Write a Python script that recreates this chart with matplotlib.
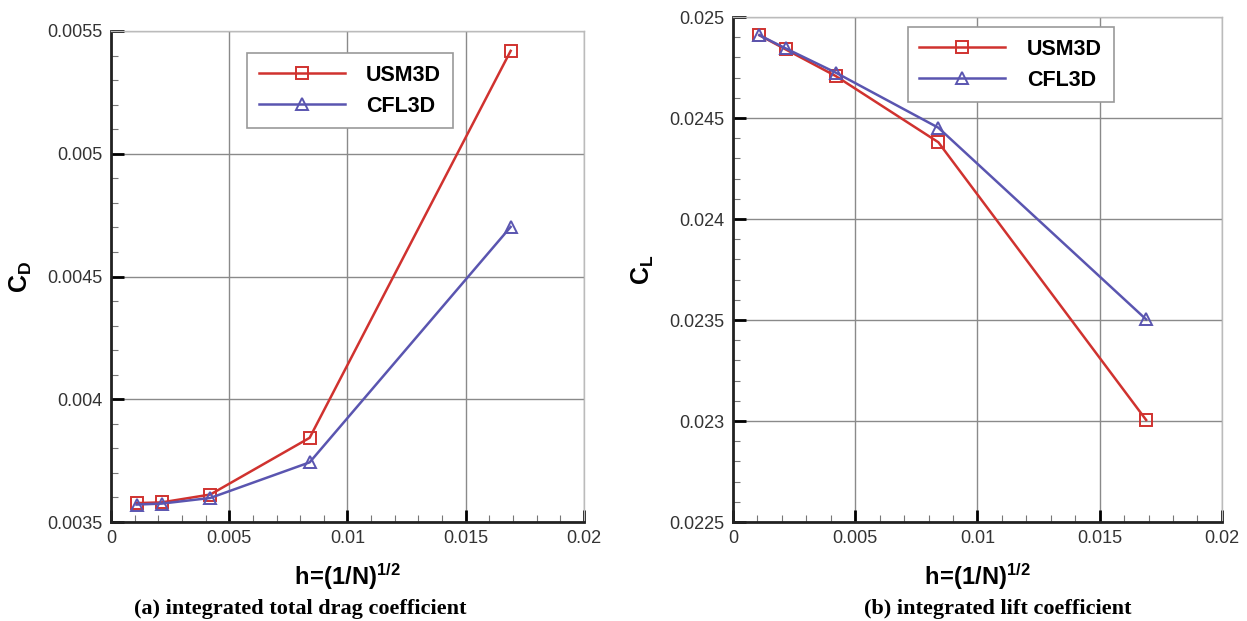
import matplotlib
matplotlib.use("Agg")
import matplotlib.pyplot as plt
from matplotlib.ticker import MultipleLocator

plt.rcParams['font.family'] = ['Liberation Sans', 'DejaVu Sans']
plt.rcParams['mathtext.fontset'] = 'custom'
plt.rcParams['mathtext.bf'] = 'Liberation Sans:bold'
plt.rcParams['mathtext.rm'] = 'Liberation Sans'

# grid spacing h = (1/N)^(1/2)
h = [0.00108, 0.00215, 0.0042, 0.0084, 0.0169]

# integrated drag coefficient
cd_usm3d = [0.003577, 0.00358, 0.003612, 0.003843, 0.005419]
cd_cfl3d = [0.003571, 0.003575, 0.003598, 0.003743, 0.004702]

# integrated lift coefficient
cl_usm3d = [0.02491, 0.02484, 0.024708, 0.02438, 0.023005]
cl_cfl3d = [0.02491, 0.024845, 0.024725, 0.024452, 0.023503]

labels = ['USM3D', 'CFL3D']
captions = ['(a) integrated total drag coefficient', '(b) integrated lift coefficient']

red = '#d0322f'
blue = '#5a55b0'

fig = plt.figure(figsize=(12.47, 6.21), dpi=100)
ax1 = fig.add_axes([0.089, 0.1594, 0.3793, 0.7907])
ax2 = fig.add_axes([0.5878, 0.1594, 0.3921, 0.8132])


def style(ax, ylim, ymaj, ymin):
    ax.set_xlim(0, 0.02)
    ax.set_ylim(*ylim)
    ax.xaxis.set_major_locator(MultipleLocator(0.005))
    ax.xaxis.set_minor_locator(MultipleLocator(0.001))
    ax.yaxis.set_major_locator(MultipleLocator(ymaj))
    ax.yaxis.set_minor_locator(MultipleLocator(ymin))
    ax.grid(True, which='major', color='#8a8a8a', lw=1.0)
    ax.set_axisbelow(True)
    for s in ['left', 'bottom']:
        ax.spines[s].set_linewidth(2.0)
        ax.spines[s].set_color('#222222')
    for s in ['top', 'right']:
        ax.spines[s].set_linewidth(1.0)
        ax.spines[s].set_color('#bbbbbb')
    ax.tick_params(which='major', direction='in', length=9, width=2, labelsize=13,
                   labelcolor='#333333', pad=6)
    ax.tick_params(which='minor', direction='in', length=5, width=0.8, color='#777777')
    ax.set_xlabel(r'$\mathbf{h\!=\!(1/N)^{1/2}}$', fontsize=17, labelpad=10)
    ax.xaxis.set_major_formatter(plt.FuncFormatter(lambda v, p: ('%g' % v)))
    ax.yaxis.set_major_formatter(plt.FuncFormatter(lambda v, p: ('%.4f' % v).rstrip('0').rstrip('.')))


style(ax1, (0.0035, 0.0055), 0.0005, 0.0001)
style(ax2, (0.0225, 0.025), 0.0005, 0.0001)

for ax, u, c in [(ax1, cd_usm3d, cd_cfl3d), (ax2, cl_usm3d, cl_cfl3d)]:
    ax.plot(h, u, color=red, lw=1.8, marker='s', ms=8, mfc='none', mec=red, mew=1.4,
            label=labels[0])
    ax.plot(h, c, color=blue, lw=1.8, marker='^', ms=9, mfc='none', mec=blue, mew=1.4,
            label=labels[1])

leg_kw = dict(frameon=True, fancybox=False, edgecolor='#999999', framealpha=1,
              prop={'weight': 'bold', 'size': 15.5}, handlelength=4.0, markerfirst=True,
              borderpad=0.55, labelspacing=0.45, handletextpad=1.0, borderaxespad=0)
l1 = ax1.legend(loc='upper left', bbox_to_anchor=(0.287, 0.955), **leg_kw)
l2 = ax2.legend(loc='upper left', bbox_to_anchor=(0.357, 0.98), **leg_kw)
for l in (l1, l2):
    l.get_frame().set_linewidth(1.2)

ax1.set_ylabel(r'$\mathbf{C_D}$', fontsize=18, labelpad=10)
ax2.set_ylabel(r'$\mathbf{C_L}$', fontsize=18, labelpad=10)

fig.text(0.241, 0.012, captions[0], family=['Liberation Serif', 'DejaVu Serif'],
         weight='bold', fontsize=16, ha='center')
fig.text(0.80, 0.012, captions[1], family=['Liberation Serif', 'DejaVu Serif'],
         weight='bold', fontsize=16, ha='center')

fig.savefig('out.png', dpi=100)
